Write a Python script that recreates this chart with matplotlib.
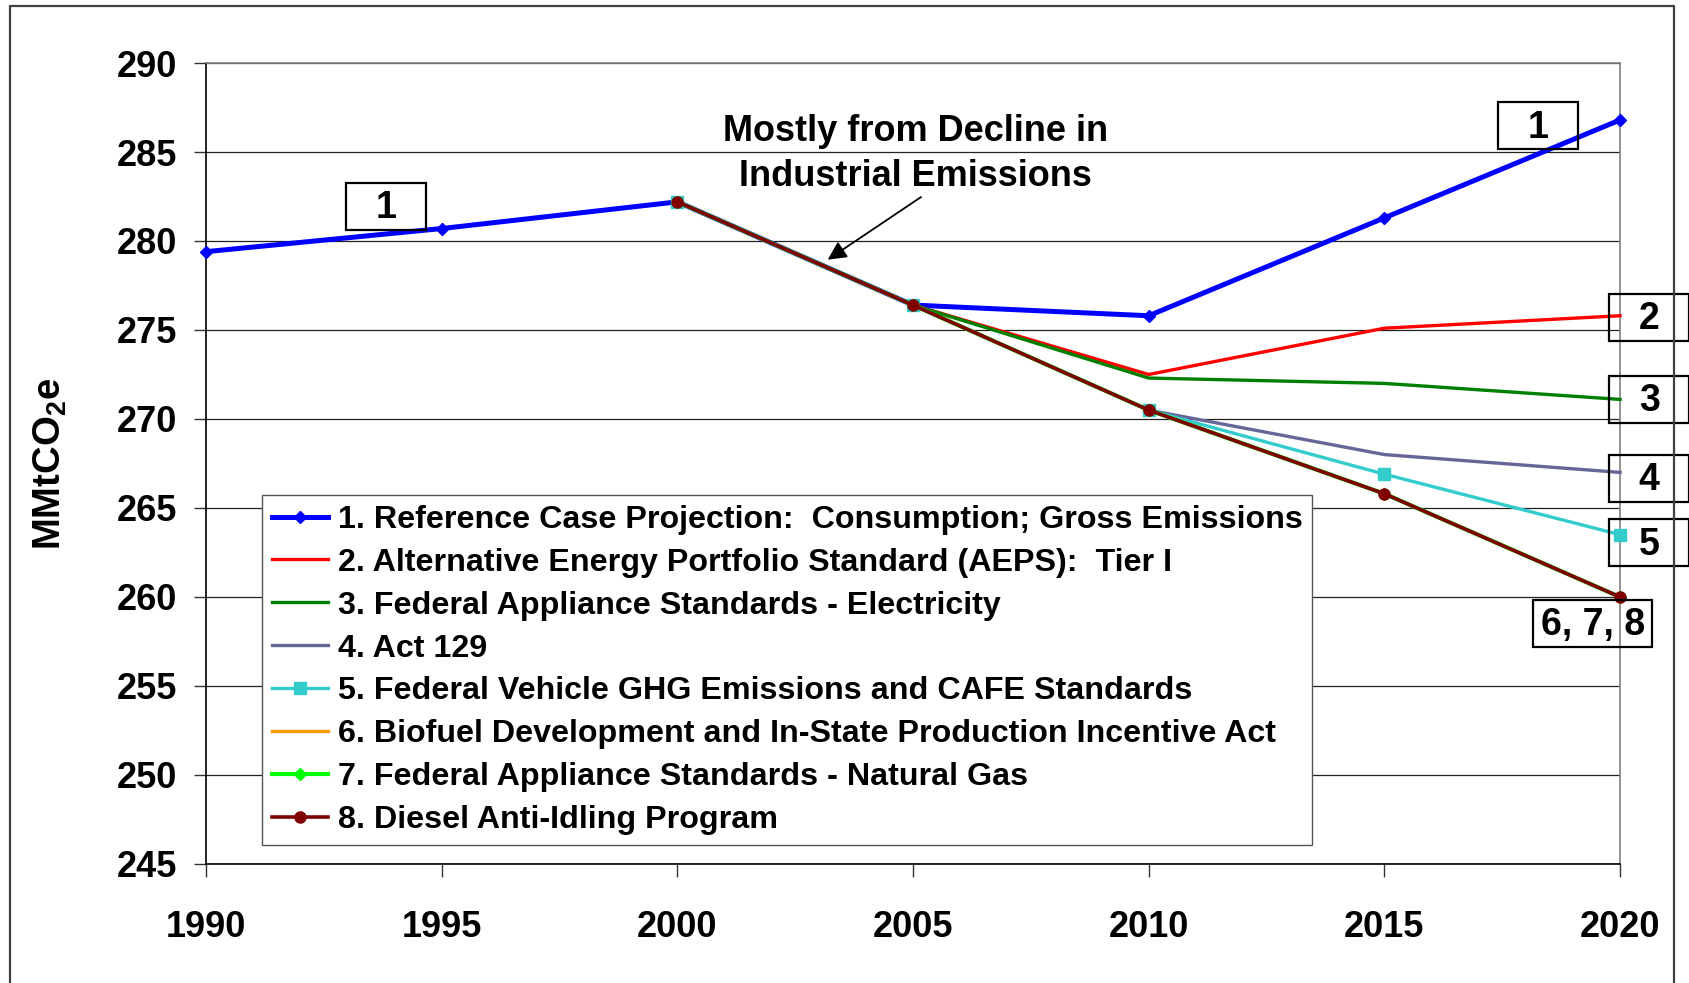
import matplotlib
matplotlib.use("Agg")
import matplotlib.pyplot as plt
from matplotlib.lines import Line2D
from matplotlib.patches import Rectangle
from matplotlib.transforms import ScaledTranslation

plt.rcParams['font.family'] = ['Liberation Sans', 'DejaVu Sans']
plt.rcParams['font.weight'] = 'bold'
plt.rcParams['mathtext.fontset'] = 'custom'
plt.rcParams['mathtext.rm'] = 'Liberation Sans:bold'
plt.rcParams['mathtext.default'] = 'rm'

# Emissions, MMtCO2e
years = [1990, 1995, 2000, 2005, 2010, 2015, 2020]
reference_case = [279.4, 280.7, 282.2, 276.4, 275.8, 281.3, 286.8]

policy_years = [2000, 2005, 2010, 2015, 2020]
aeps_tier1 = [282.2, 276.4, 272.5, 275.1, 275.8]
appliance_elec = [282.2, 276.4, 272.3, 272.0, 271.1]
act_129 = [282.2, 276.4, 270.5, 268.0, 267.0]
vehicle_ghg_cafe = [282.2, 276.4, 270.5, 266.9, 263.5]
biofuel = [282.2, 276.4, 270.5, 265.8, 260.0]
appliance_gas = [282.2, 276.4, 270.5, 265.8, 260.0]
anti_idling = [282.2, 276.4, 270.5, 265.8, 260.0]

labels = [
    "1. Reference Case Projection:  Consumption; Gross Emissions",
    "2. Alternative Energy Portfolio Standard (AEPS):  Tier I",
    "3. Federal Appliance Standards - Electricity",
    "4. Act 129",
    "5. Federal Vehicle GHG Emissions and CAFE Standards",
    "6. Biofuel Development and In-State Production Incentive Act",
    "7. Federal Appliance Standards - Natural Gas",
    "8. Diesel Anti-Idling Program",
]

fig = plt.figure(figsize=(16.9, 9.83), dpi=100)
ax = fig.add_axes([0.1219, 0.1211, 0.8367, 0.8148])

# outer chart border (open at the bottom)
x0, x1, y1 = 10 / 1690, 1674 / 1690, 1 - 6 / 983
fig.add_artist(Line2D([x0, x0, x1, x1], [-0.01, y1, y1, -0.01],
                      transform=fig.transFigure, color='#404040', lw=1.6))

ax.plot(years, reference_case, color='#0000FF', lw=3.6, marker='D', ms=6,
        label=labels[0], clip_on=False, zorder=3)
ax.plot(policy_years, aeps_tier1, color='#FF0000', lw=2.4, label=labels[1],
        clip_on=False, zorder=3)
ax.plot(policy_years, appliance_elec, color='#008000', lw=2.4, label=labels[2],
        clip_on=False, zorder=3)
ax.plot(policy_years, act_129, color='#666699', lw=2.4, label=labels[3],
        clip_on=False, zorder=3)
ax.plot(policy_years, vehicle_ghg_cafe, color='#33CCCC', lw=2.4, marker='s', ms=8,
        label=labels[4], clip_on=False, zorder=3)
ax.plot(policy_years, biofuel, color='#FF9900', lw=2.4, label=labels[5],
        clip_on=False, zorder=3)
ax.plot(policy_years, appliance_gas, color='#00FF00', lw=3.0, marker='D', ms=6,
        label=labels[6], clip_on=False, zorder=3)
ax.plot(policy_years, anti_idling, color='#800000', lw=2.6, marker='o', ms=8,
        label=labels[7], clip_on=False, zorder=3)

ax.set_xlim(1990, 2020)
ax.set_ylim(245, 290)
ax.set_xticks(years)
ax.set_yticks(range(245, 291, 5))
ax.yaxis.grid(True, color='#222222', lw=0.9)
ax.set_axisbelow(True)

ax.spines['left'].set_color('black')
ax.spines['bottom'].set_color('black')
ax.spines['left'].set_linewidth(1.2)
ax.spines['bottom'].set_linewidth(1.2)
ax.spines['top'].set_color('#808080')
ax.spines['right'].set_color('#808080')
ax.spines['top'].set_linewidth(1.2)
ax.spines['right'].set_linewidth(1.2)

ax.tick_params(axis='both', direction='out', length=9, width=1, color='#333333',
               labelsize=26)
ax.tick_params(axis='x', pad=24)
ax.tick_params(axis='y', pad=12)

ax.set_ylabel("MMtCO$_2$e", fontsize=27.5, fontweight='bold', labelpad=0)
ax.yaxis.set_label_coords(-0.097, 0.5)

# note on the 2000-2005 drop
ax.text(2005.06, 284.9, "Mostly from Decline in\nIndustrial Emissions",
        ha='center', va='center', fontsize=26, fontweight='bold', linespacing=1.36)
ax.annotate("", xy=(2003.19, 278.95), xytext=(2005.17, 282.47),
            arrowprops=dict(arrowstyle='-|>', color='black', lw=1.3,
                            mutation_scale=28, shrinkA=0, shrinkB=0))


def number_box(x, y, text, w=0.80, h=0.47):
    ax.text(x, y, text, ha='center', va='center', fontsize=27,
            fontweight='bold', clip_on=False, zorder=5)
    trans = fig.dpi_scale_trans + ScaledTranslation(x, y, ax.transData)
    ax.add_patch(Rectangle((-w / 2, -h / 2 + 0.02), w, h, transform=trans,
                           fill=False, ec='black', lw=1.6, clip_on=False, zorder=5))


number_box(1993.82, 281.85, "1")
number_box(2018.26, 286.35, "1")
number_box(2020.62, 275.6, "2")
number_box(2020.62, 271.0, "3")
number_box(2020.62, 266.56, "4")
number_box(2020.62, 262.93, "5")
number_box(2019.42, 258.4, "6, 7, 8", w=1.19)

leg = ax.legend(loc='lower left', bbox_to_anchor=(0.0396, 0.024),
                prop={'family': 'Liberation Sans', 'weight': 'bold', 'size': 23.2},
                frameon=True, fancybox=False, framealpha=1, edgecolor='#555555',
                borderpad=0.3, labelspacing=0.4, handlelength=1.75,
                handletextpad=0.3, borderaxespad=0, numpoints=1)
leg.get_frame().set_linewidth(1.0)
leg.set_zorder(4)

fig.savefig("out.png", dpi=100)
